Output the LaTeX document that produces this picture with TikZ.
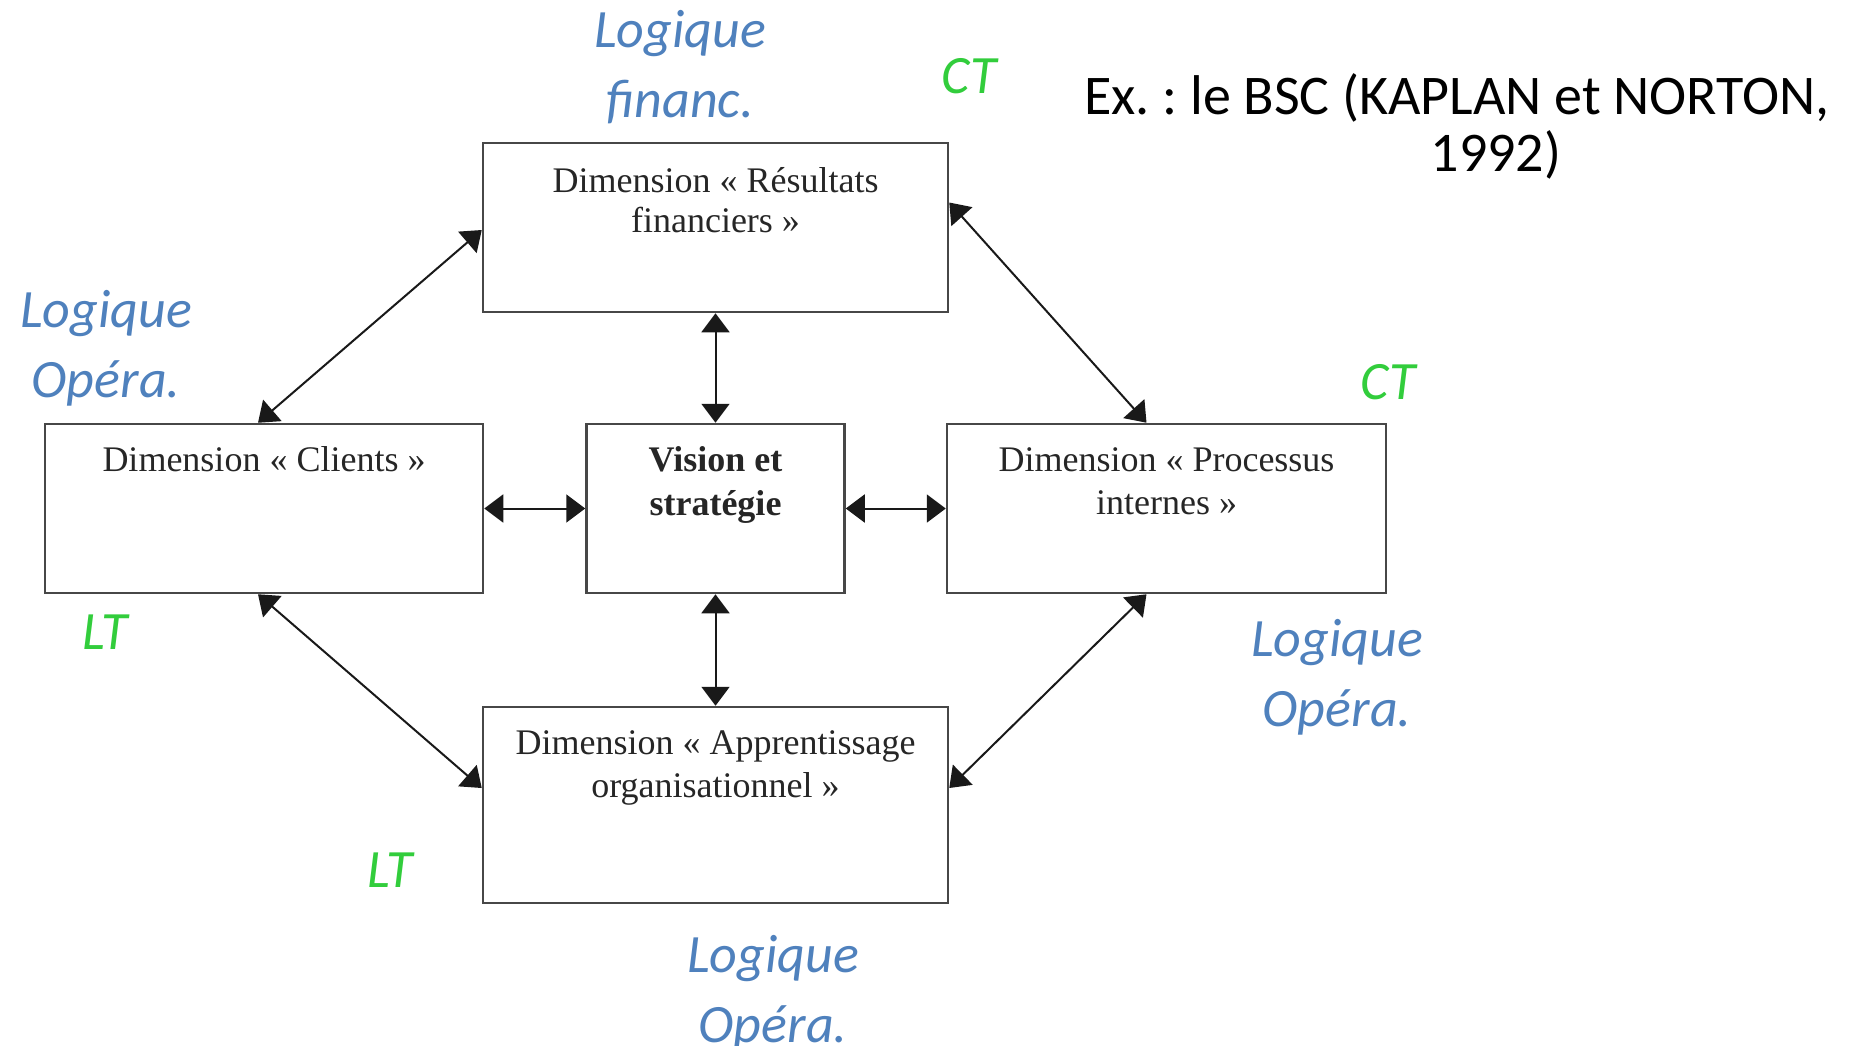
\documentclass[tikz,border=0pt]{standalone}
\usepackage{fontspec}
\setmainfont{Liberation Serif}
\newfontfamily\calfont{Carlito}
\usetikzlibrary{arrows.meta}
\definecolor{logblue}{RGB}{79,129,189}
\definecolor{ltgreen}{RGB}{50,205,60}
\frenchspacing
\begin{document}
\begin{tikzpicture}[x=1pt,y=-1pt,
  box/.style={draw=black!72, line width=2.5pt, fill=white, inner sep=0pt},
  boxtext/.style={font=\fontsize{36}{43}\selectfont, text=black!85, inner sep=0pt, anchor=base},
  conn/.style={{Triangle[length=19pt,width=28pt]}-{Triangle[length=19pt,width=28pt]}, line width=2pt, draw=black!90},
  bluelbl/.style={font=\calfont\itshape\fontsize{54}{70}\selectfont, text=logblue, inner sep=0pt, anchor=base},
  greenlbl/.style={font=\calfont\itshape\fontsize{54}{70}\selectfont, text=ltgreen, inner sep=0pt, anchor=base}]
\useasboundingbox (0,0) rectangle (1856,1045);

% boxes
\node[box, minimum width=465pt, minimum height=169pt] (R) at (715.5,227.5) {};
\node[box, minimum width=438pt, minimum height=169pt] (C) at (264,508.5) {};
\node[box, minimum width=258pt, minimum height=169pt] (V) at (715.5,508.5) {};
\node[box, minimum width=439pt, minimum height=169pt] (P) at (1166.5,508.5) {};
\node[box, minimum width=465pt, minimum height=196pt] (A) at (715.5,805) {};

% box texts
\node[boxtext, font=\fontsize{36}{40}\selectfont] (Rt) at (715.5,192) {\begin{tabular}[t]{@{}c@{}}Dimension «~Résultats\\financiers~»\end{tabular}};
\node[boxtext] (Ct) at (264,471) {Dimension «~Clients~»};
\node[boxtext, font=\bfseries\fontsize{36}{44}\selectfont] (Vt) at (715.5,471) {\begin{tabular}[t]{@{}c@{}}Vision et\\stratégie\end{tabular}};
\node[boxtext] (Pt) at (1166.5,471) {\begin{tabular}[t]{@{}c@{}}Dimension «~Processus\\internes~»\end{tabular}};
\node[boxtext] (At) at (715.5,754) {\begin{tabular}[t]{@{}c@{}}Dimension «~Apprentissage\\organisationnel~»\end{tabular}};

% connectors
\draw[conn] (R.south) -- (V.north);
\draw[conn] (V.south) -- (A.north);
\draw[conn] (C.east) -- (V.west);
\draw[conn] (V.east) -- (P.west);
\draw[conn] ([xshift=-6pt]C.north) -- ([yshift=-2.5pt]R.west);
\draw[conn] ([yshift=25pt]R.east) -- ([xshift=-20pt]P.north);
\draw[conn] ([xshift=-6pt]C.south) -- ([yshift=17pt]A.west);
\draw[conn] ([xshift=-20pt]P.south) -- ([yshift=17pt]A.east);

% labels
\node[bluelbl] (lf) at (680,47) {\begin{tabular}[t]{@{}c@{}}Logique\\financ.\end{tabular}};
\node[greenlbl] (ct1) at (969,93) {CT};
\node[bluelbl] (lo1) at (106,327) {\begin{tabular}[t]{@{}c@{}}Logique\\Opéra.\end{tabular}};
\node[greenlbl] (ct2) at (1388,399) {CT};
\node[greenlbl] (lt1) at (105,649) {LT};
\node[bluelbl] (lo2) at (1337,656) {\begin{tabular}[t]{@{}c@{}}Logique\\Opéra.\end{tabular}};
\node[greenlbl] (lt2) at (390,887) {LT};
\node[bluelbl] (lo3) at (773,972) {\begin{tabular}[t]{@{}c@{}}Logique\\Opéra.\end{tabular}};

% title
\node[anchor=base, inner sep=0pt, font=\calfont\fontsize{56}{56}\selectfont] (ex) at (1457,114)
  {\begin{tabular}[t]{@{}c@{}}Ex. : le BSC (KAPLAN et NORTON,\\\hspace*{78pt}1992)\end{tabular}};
\end{tikzpicture}
\end{document}
